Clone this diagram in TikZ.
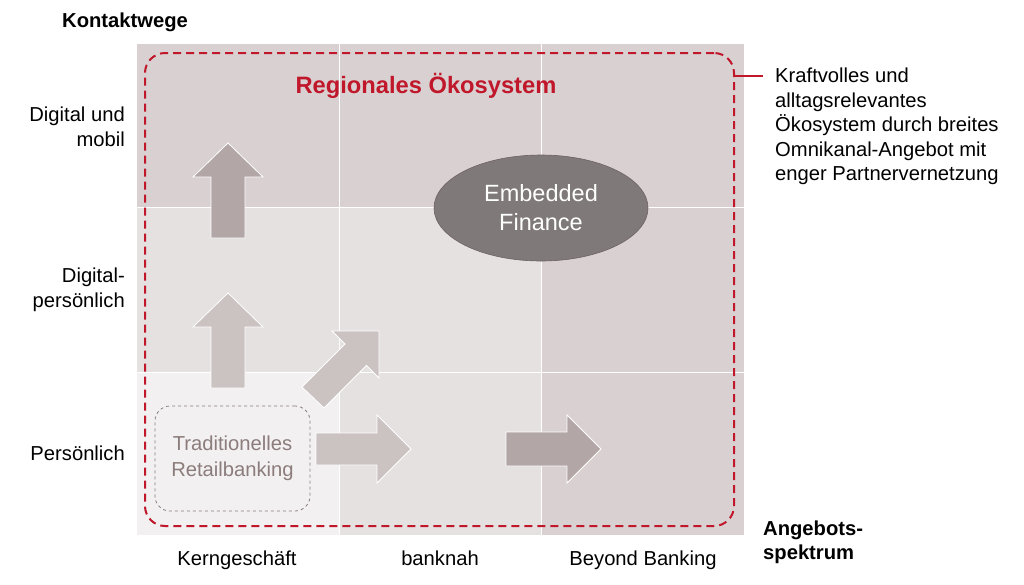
\documentclass[tikz,border=0pt]{standalone}
\usepackage{fontspec}
\setmainfont{Liberation Sans}
\usetikzlibrary{shapes.geometric}
\definecolor{cdark}{HTML}{D9D1D1}
\definecolor{cmid}{HTML}{E5E1E1}
\definecolor{clight}{HTML}{F2F0F0}
\definecolor{ared}{HTML}{C0172B}
\definecolor{adark}{HTML}{B3A6A6}
\definecolor{alight}{HTML}{CBC2C2}
\definecolor{ellfill}{HTML}{7F7979}
\definecolor{elldraw}{HTML}{6E6262}
\definecolor{tgray}{HTML}{8C7C7C}
\begin{document}
\begin{tikzpicture}[x=1pt,y=-1pt,
  cell/.style={draw=white,line width=1pt},
  bigarrow/.style={draw=white,line width=0.8pt},
  lbl/.style={font=\fontsize{20.2}{24.5}\selectfont,align=center,inner sep=0pt},
  collbl/.style={font=\fontsize{20.2}{24.5}\selectfont,inner sep=0pt,anchor=base},
  rowlbl/.style={font=\fontsize{20.2}{24.5}\selectfont,align=right,inner sep=0pt,anchor=east},
  boldlbl/.style={font=\fontsize{20.2}{23.5}\selectfont\bfseries,align=left,inner sep=0pt},
]
\useasboundingbox (0,0) rectangle (1024,584);
\fill[white] (0,0) rectangle (1024,584);
% grid cells
\filldraw[cell,fill=cdark] (136,43) rectangle (339,207);
\filldraw[cell,fill=cdark] (339,43) rectangle (541,207);
\filldraw[cell,fill=cdark] (541,43) rectangle (744,207);
\filldraw[cell,fill=cmid] (136,207) rectangle (339,372);
\filldraw[cell,fill=cmid] (339,207) rectangle (541,372);
\filldraw[cell,fill=cdark] (541,207) rectangle (744,372);
\filldraw[cell,fill=clight] (136,372) rectangle (339,535);
\filldraw[cell,fill=cmid] (339,372) rectangle (541,535);
\filldraw[cell,fill=cdark] (541,372) rectangle (744,535);
% arrows
\filldraw[bigarrow,fill=adark] (211,238) -- (211,177) -- (193,177) -- (228,143) -- (263,177) -- (245,177) -- (245,238) -- cycle;
\filldraw[bigarrow,fill=alight] (211,388) -- (211,327) -- (193,327) -- (228,293) -- (263,327) -- (245,327) -- (245,388) -- cycle;
\filldraw[bigarrow,fill=alight] (302,387) -- (345,344) -- (332,331) -- (379,331) -- (379,378) -- (366.5,365.5) -- (324,408) -- cycle;
\filldraw[bigarrow,fill=alight] (316,433) -- (377,433) -- (377,415) -- (411,449) -- (377,483) -- (377,465) -- (316,465) -- cycle;
\filldraw[bigarrow,fill=adark] (506,432) -- (567,432) -- (567,415) -- (601,449) -- (567,483) -- (567,466) -- (506,466) -- cycle;
% traditional box
\node[draw=tgray,dashed,line width=0.8pt,rounded corners=15pt,minimum width=155pt,minimum height=105pt,
  text=tgray,font=\fontsize{20.2}{26}\selectfont,align=center] (trad) at (232.5,458.5) {Traditionelles\\Retailbanking};
% ellipse
\node[ellipse,draw=elldraw,line width=0.6pt,fill=ellfill,minimum width=214pt,minimum height=106pt,inner sep=0pt,
  text=white,font=\fontsize{23.5}{29}\selectfont,align=center] (ef) at (541,208) {Embedded\\Finance};
% ecosystem box
\node[draw=ared,line width=2pt,dash pattern=on 8pt off 5pt,rounded corners=20pt,minimum width=589pt,minimum height=473pt,inner sep=0pt] (eco) at (439.5,289.5) {};
\node[text=ared,font=\fontsize{23.7}{28}\selectfont\bfseries,inner sep=0pt] (ecot) at (426,86) {Regionales Ökosystem};
% side text
\node[lbl,align=left,anchor=north west] (desc) at (775,68) {Kraftvolles und\\alltagsrelevantes\\Ökosystem durch breites\\Omnikanal-Angebot mit\\enger Partnervernetzung};
\coordinate (c1) at (eco.east |- 0,76);
\draw[ared,line width=1.5pt] (c1) -- (763,76);
% axis labels
\node[boldlbl,anchor=west] (kw) at (62,22) {Kontaktwege};
\node[rowlbl] (r1) at (125,127) {Digital und\\mobil};
\node[rowlbl] (r2) at (125,290) {Digital-\\persönlich};
\node[rowlbl] (r3) at (125,453) {Persönlich};
\node[collbl] (c1l) at (237,565) {Kerngeschäft};
\node[collbl] (c2l) at (440,565) {banknah};
\node[collbl] (c3l) at (643,565) {Beyond Banking};
\node[boldlbl,anchor=north west] (as) at (763,521) {Angebots-\\spektrum};
\end{tikzpicture}
\end{document}
